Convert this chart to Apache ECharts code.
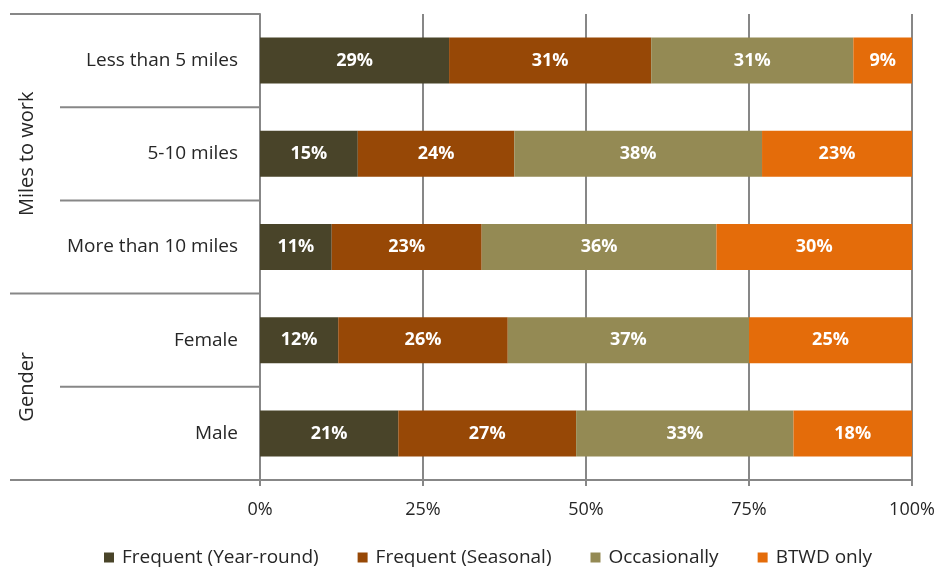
<!DOCTYPE html>
<html><head><meta charset="utf-8">
<script src="https://cdn.jsdelivr.net/npm/echarts@6/dist/echarts.min.js"></script>
<style>html,body{margin:0;padding:0;background:#fff}#chart{width:940px;height:569px}</style>
</head><body><div id="chart"></div>
<script>
// Commute frequency by distance to work and by gender (100% stacked)
const categories = ['Less than 5 miles', '5-10 miles', 'More than 10 miles', 'Female', 'Male'];
const seriesNames = ['Frequent (Year-round)', 'Frequent (Seasonal)', 'Occasionally', 'BTWD only'];
const yearRound = [29, 15, 11, 12, 21];
const seasonal = [31, 24, 23, 26, 27];
const occasionally = [31, 38, 36, 37, 33];
const btwdOnly = [9, 23, 30, 25, 18];
const groups = [
  { name: 'Miles to work', first: 0, last: 2 },
  { name: 'Gender', first: 3, last: 4 }
];
const xTicks = [0, 25, 50, 75, 100];

const colors = ['#494429', '#974806', '#948A54', '#E46C0A'];
const FONT = 'Open Sans';
const lineColor = '#878787';
const textColor = '#262626';

const rows = [yearRound, seasonal, occasionally, btwdOnly];
const totals = categories.map((_, i) => rows.reduce((s, r) => s + r[i], 0));

const series = rows.map((vals, k) => ({
  name: seriesNames[k],
  type: 'bar',
  stack: 'share',
  barWidth: 46,
  itemStyle: { color: colors[k] },
  label: {
    show: true,
    color: '#fff',
    fontFamily: FONT,
    fontWeight: 'bold',
    fontSize: 18,
    formatter: p => p.data.raw + '%'
  },
  data: vals.map((v, i) => ({ value: v / totals[i] * 100, raw: v }))
}));

const chart = echarts.init(document.getElementById('chart'), null, { renderer: 'canvas' });
chart.setOption({
  animation: false,
  color: colors,
  grid: { left: 260, right: 28, top: 14, bottom: 89 },
  xAxis: {
    type: 'value',
    min: xTicks[0],
    max: xTicks[xTicks.length - 1],
    interval: xTicks[1] - xTicks[0],
    axisLine: { show: true, lineStyle: { color: lineColor, width: 2 } },
    axisTick: { show: true, length: 6, lineStyle: { color: lineColor, width: 2 } },
    splitLine: { show: true, lineStyle: { color: lineColor, width: 2 } },
    axisLabel: { formatter: '{value}%', fontFamily: FONT, fontSize: 18, color: textColor, margin: 21 }
  },
  yAxis: {
    type: 'category',
    inverse: true,
    data: categories,
    axisLine: { show: true, lineStyle: { color: lineColor, width: 2 } },
    axisTick: { show: false },
    axisLabel: { fontFamily: FONT, fontSize: 19, color: textColor, margin: 22 }
  },
  legend: {
    top: 543,
    left: 99,
    icon: 'rect',
    itemWidth: 10,
    itemHeight: 10,
    itemGap: 39,
    textStyle: { fontFamily: FONT, fontSize: 19, color: textColor, padding: [0, 0, 0, 3] },
    data: seriesNames
  },
  series: series
});

// Group brackets on the left: band boundary lines and rotated group names
const yA = chart.convertToPixel({ yAxisIndex: 0 }, 0);
const yB = chart.convertToPixel({ yAxisIndex: 0 }, 1);
const step = yB - yA;
const boundary = i => yA - step / 2 + i * step;
const axisX = chart.convertToPixel({ xAxisIndex: 0 }, xTicks[0]);
const outerX = 10, innerX = 60;
const groupStarts = new Set(groups.map(g => g.first).concat([categories.length]));
const elements = [];
for (let i = 0; i <= categories.length; i++) {
  const x0 = groupStarts.has(i) ? outerX : innerX;
  elements.push({
    type: 'line',
    shape: { x1: x0, y1: boundary(i), x2: axisX, y2: boundary(i) },
    style: { stroke: lineColor, lineWidth: 2 }
  });
}
groups.forEach(g => {
  const mid = (boundary(g.first) + boundary(g.last + 1)) / 2;
  elements.push({
    type: 'text',
    x: 27, y: mid,
    rotation: Math.PI / 2,
    style: { text: g.name, fontFamily: FONT, fontSize: 20, fill: textColor, align: 'center', verticalAlign: 'middle' }
  });
});
chart.setOption({ graphic: { elements: elements } });
</script>
</body></html>
